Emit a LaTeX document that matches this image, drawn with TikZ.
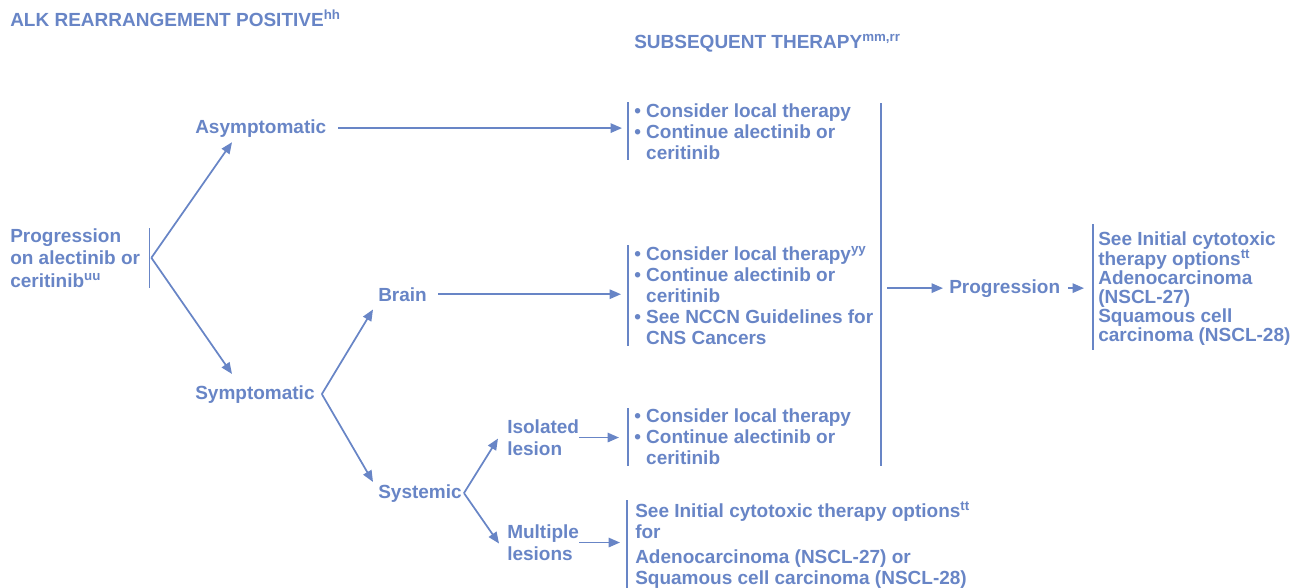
\documentclass[tikz,border=0pt]{standalone}
\usepackage{fontspec}
\setmainfont{Liberation Sans}
\usepackage{tikz}
\usetikzlibrary{arrows.meta}
\usetikzlibrary{calc}
\definecolor{nccnblue}{RGB}{104,133,198}

\begin{document}
\begin{tikzpicture}[x=0.75pt, y=-0.75pt,
  lbl/.style={inner sep=0pt, anchor=north west, align=left, text=nccnblue,
    font=\fontsize{14.25pt}{16.9pt}\selectfont\bfseries},
  lst/.style={lbl, font=\fontsize{14.25pt}{15.75pt}\selectfont\bfseries},
  bar/.style={draw=nccnblue, line width=1.3pt},
  arr/.style={bar, -{Triangle[length=8.5pt,width=7pt]}}]
\useasboundingbox (0,0) rectangle (1302,587);

\node[lbl, anchor=base west] (title) at (10,26) {ALK REARRANGEMENT POSITIVE\textsuperscript{hh}};
\node[lbl, anchor=base west] (subs) at (634,48) {SUBSEQUENT THERAPY\textsuperscript{mm,rr}};

\node[lbl] (progl) at (10,228) {Progression\\on alectinib or\\ceritinib\textsuperscript{uu}};
\node[lbl, anchor=base west] (asym) at (195,133) {Asymptomatic};
\node[lbl, anchor=base west] (symp) at (195,399) {Symptomatic};
\node[lbl, anchor=base west] (brain) at (378,301) {Brain};
\node[lbl, anchor=base west] (syst) at (378,498) {Systemic};
\node[lbl] (iso) at (507,419) {Isolated\\lesion};
\node[lbl] (mult) at (507,524) {Multiple\\lesions};

\node[lst] (asymbox) at (634,103) {• Consider local therapy\\• Continue alectinib or\\\hphantom{• }ceritinib};
\node[lst] (brainbox) at (634,246) {• Consider local therapy\textsuperscript{yy}\\• Continue alectinib or\\\hphantom{• }ceritinib\\• See NCCN Guidelines for\\\hphantom{• }CNS Cancers};
\node[lst] (isobox) at (634,408) {• Consider local therapy\\• Continue alectinib or\\\hphantom{• }ceritinib};
\node[lst] (multbox) at (635,502) {See Initial cytotoxic therapy options\textsuperscript{tt}\\for\\[3pt]Adenocarcinoma (NSCL-27) or\\Squamous cell carcinoma (NSCL-28)};

\node[lbl, anchor=base west] (prog) at (949,293) {Progression};
\node[lbl, font=\fontsize{14.25pt}{14.25pt}\selectfont\bfseries] (progbox) at (1098,231) {See Initial cytotoxic\\therapy options\textsuperscript{tt}\\Adenocarcinoma\\(NSCL-27)\\Squamous cell\\carcinoma (NSCL-28)};

\draw[bar] ($(progl.north east)+(9,0)$) -- coordinate (pv) ($(progl.south east)+(9,0)$);
\draw[arr] ($(pv)+(2,0)$) -- ($(asym.south west)+(37,5)$);
\draw[arr] ($(pv)+(2,0)$) -- ($(symp.north west)+(37,-11)$);
\draw[arr] ($(symp.east)+(7,0)$) -- ($(brain.south west)+(-5,8)$);
\draw[arr] ($(symp.east)+(7,0)$) -- ($(syst.north west)+(-5,-2)$);
\draw[arr] ($(syst.east)+(2,0)$) -- ($(iso.west)+(-9,1)$);
\draw[arr] ($(syst.east)+(2,0)$) -- ($(mult.west)+(-8,1)$);

\draw[arr] ($(asym.east)+(12,0)$) -- ($(asym.east -| asymbox.west)+(-12,0)$);
\draw[arr] ($(brain.east)+(11,0)$) -- ($(brain.east -| brainbox.west)+(-13,0)$);
\draw[arr] (iso.east) -- ($(iso.east -| isobox.west)+(-15,0)$);
\draw[arr] (mult.east) -- ($(mult.east -| multbox.west)+(-15,0)$);

\draw[bar] ($(asymbox.north west)+(-6,-1)$) -- ($(asymbox.south west)+(-6,1)$);
\draw[bar] ($(brainbox.north west)+(-6,-1)$) -- ($(brainbox.south west)+(-6,1)$);
\draw[bar] ($(isobox.north west)+(-6,0)$) -- ($(isobox.south west)+(-6,2)$);
\draw[bar] ($(multbox.north west)+(-8,-2)$) -- ($(multbox.south west)+(-8,0)$);
\draw[bar] ($(progbox.north west)+(-5,-7)$) -- ($(progbox.south west)+(-5,4)$);

\draw[bar] (881,103) -- (881,466);
\coordinate (join) at ($(prog.west)+(-62,0)$);
\draw[arr] (join) -- ($(prog.west)+(-6,0)$);
\draw[arr] ($(prog.east)+(8,0)$) -- ($(prog.east -| progbox.west)+(-14,0)$);
\end{tikzpicture}
\end{document}
